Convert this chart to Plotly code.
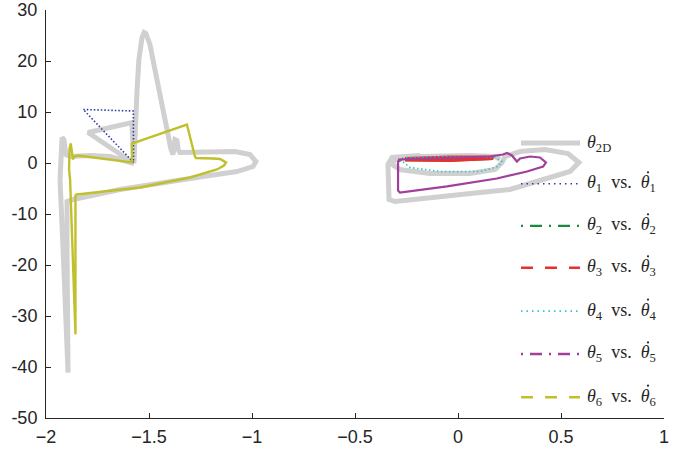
import plotly.graph_objects as go

# ---------------- data ----------------
# theta_2D (thick gray) - left cluster
g2d_left_x = [-1.932, -1.927, -1.922, -1.913, -1.903, -1.883, -1.786, -1.689, -1.573,
              -1.796, -1.583, -1.573, -1.568, -1.558, -1.549, -1.539, -1.534, -1.524,
              -1.515, -1.510, -1.495, -1.481, -1.456, -1.437, -1.422, -1.408, -1.393,
              -1.383, -1.374, -1.364, -1.359, -1.350, -1.204, -1.083, -1.010, -0.981,
              -0.995, -1.073, -1.238, -1.398, -1.641, -1.869, -1.898, -1.898, -1.893,
              -1.917, -1.932]
g2d_left_y = [-3.24, 2.65, 5.0, 4.6, 1.67, 1.27, 1.47, 1.27, -0.1,
              5.98, 7.94, -0.1, 6.57, 14.4, 20.3, 23.8, 24.6, 25.6,
              25.4, 24.8, 23.2, 20.3, 15.4, 11.5, 8.1, 5.2, 2.65,
              1.67, 4.6, 4.4, 2.65, 2.06, 2.25, 2.25, 1.67, 0.29,
              -0.69, -1.67, -2.65, -3.63, -5.2, -7.16, -7.55, -17.0, -41.1,
              -17.0, -3.24]
# theta_2D - right cluster
g2d_right_x = [0.204, 0.180, 0.058, -0.184, -0.306, -0.320, -0.282, -0.136, 0.058,
               0.180, 0.214, 0.228, 0.301, 0.422, 0.534, 0.587, 0.544, 0.413,
               0.252, 0.107, -0.136, -0.306, -0.335, -0.340, -0.320, -0.184]
g2d_right_y = [0.69, 1.27, 1.47, 1.27, 0.69, -0.29, -1.27, -2.06, -2.06,
               -1.27, 0.10, 1.27, 2.25, 2.65, 1.86, 0.10, -1.67, -3.24,
               -5.2, -5.8, -6.76, -7.55, -7.16, -0.29, 1.08, 1.47]

# theta_1 vs dtheta_1 (blue dotted)
th1_x = [-1.819, -1.576, -1.575, -1.819]
th1_y = [10.49, 10.2, 0.1, 10.49]

# theta_2 vs dtheta_2 (green, mostly hidden)
th2_x = [-0.257, -0.039, 0.155, 0.170, -0.039, -0.257]
th2_y = [0.80, 1.05, 1.05, 0.80, 0.45, 0.55]

# theta_3 vs dtheta_3 (red)
th3_x = [-0.257, -0.039, 0.155, 0.170, -0.039, -0.257]
th3_y = [0.88, 1.18, 1.18, 0.88, 0.49, 0.59]

# theta_4 vs dtheta_4 (cyan dotted)
th4_x = [-0.282, -0.233, -0.087, 0.107, 0.194, 0.214, 0.180, -0.039, -0.257, -0.282]
th4_y = [0.69, -0.88, -1.67, -1.67, -0.69, 0.29, 1.08, 1.27, 1.08, 0.69]

# theta_5 vs dtheta_5 (magenta)
th5_x = [-0.291, -0.184, 0.010, 0.155, 0.218, 0.238, 0.262, 0.286, 0.301, 0.350,
         0.398, 0.427, 0.413, 0.335, 0.189, -0.053, -0.282, -0.291, -0.291, -0.267]
th5_y = [0.69, 0.88, 1.08, 1.27, 1.67, 1.96, 1.47, 0.29, 0.88, 1.27,
         1.08, 0.10, -0.69, -1.67, -3.04, -4.6, -5.78, -5.4, 0.29, 0.78]

# theta_6 vs dtheta_6 (yellow)
th6_x = [-1.857, -1.850, -1.544, -1.301, -1.170, -1.136, -1.126, -1.155, -1.189, -1.272,
         -1.277, -1.316, -1.583, -1.583, -1.845, -1.864, -1.869, -1.874, -1.880, -1.886,
         -1.888, -1.883, -1.857, -1.857]
th6_y = [-6.18, -6.18, -4.8, -2.84, -1.27, -0.49, 0.10, 0.78, 0.88, 0.98,
         1.27, 7.55, 3.82, 0.10, 1.47, 1.27, 0.69, 2.65, 3.82, 2.65,
         -1.27, -3.24, -33.6, -6.18]

x_ticks = [-2, -1.5, -1, -0.5, 0, 0.5, 1]
x_ticktext = ["\u22122", "\u22121.5", "\u22121", "\u22120.5", "0", "0.5", "1"]
y_ticks = [-50, -40, -30, -20, -10, 0, 10, 20, 30]
y_ticktext = ["-50", "-40", "-30", "-20", "-10", "0", "10", "20", "30"]

legend_labels = ["<i>θ</i><sub>2D</sub>"] + [
    f"<i>θ</i><sub>{k}</sub>\u2002vs.\u2002<i>θ</i><sub>{k}</sub>" for k in range(1, 7)
]

# ---------------- styles ----------------
GRAY = "#d0d0d0"
BLUE = "#2b3caa"
GREEN = "#1c8a3c"
RED = "#e8302e"
CYAN = "#30c6c6"
MAGENTA = "#a0409c"
YELLOW = "#c0c02c"
AXC = "#262626"

fig = go.Figure()

gx = g2d_left_x + [None] + g2d_right_x
gy = g2d_left_y + [None] + g2d_right_y
fig.add_trace(go.Scatter(x=gx, y=gy, mode="lines",
                         line=dict(color=GRAY, width=5), showlegend=False))
fig.add_trace(go.Scatter(x=th1_x, y=th1_y, mode="lines",
                         line=dict(color=BLUE, width=1.6, dash="1.5px,2px"), showlegend=False))
fig.add_trace(go.Scatter(x=th2_x, y=th2_y, mode="lines",
                         line=dict(color=GREEN, width=2), showlegend=False))
fig.add_trace(go.Scatter(x=th3_x, y=th3_y, mode="lines",
                         line=dict(color=RED, width=3), showlegend=False))
fig.add_trace(go.Scatter(x=th4_x, y=th4_y, mode="lines",
                         line=dict(color=CYAN, width=1.6, dash="1.5px,2.5px"), showlegend=False))
fig.add_trace(go.Scatter(x=th5_x, y=th5_y, mode="lines",
                         line=dict(color=MAGENTA, width=2.2), showlegend=False))
fig.add_trace(go.Scatter(x=th6_x, y=th6_y, mode="lines",
                         line=dict(color=YELLOW, width=2.4), showlegend=False))

# ---------------- manual legend ----------------
leg_styles = [
    (GRAY, 5, "solid"),
    (BLUE, 1.6, "1.5px,4px"),
    (GREEN, 2.2, "2px,7px,12px,7px"),
    (RED, 2.5, "12px,12px"),
    (CYAN, 1.6, "1.5px,4px"),
    (MAGENTA, 2.5, "2px,7px,12px,7px"),
    (YELLOW, 2.5, "12px,12px"),
]
leg_y = [0.674, 0.574, 0.471, 0.368, 0.262, 0.157, 0.051]
x0, x1, xt = 0.7686, 0.8641, 0.872
PW, PH = 618.0, 408.0
dot_x = (648 - 46) / PW
for i, ((c, w, d), yy, lab) in enumerate(zip(leg_styles, leg_y, legend_labels)):
    fig.add_shape(type="line", xref="paper", yref="paper", x0=x0, x1=x1, y0=yy, y1=yy,
                  line=dict(color=c, width=w, dash=d))
    fig.add_annotation(xref="paper", yref="paper", x=xt, y=yy, text=lab, showarrow=False,
                       xanchor="left", yanchor="middle",
                       font=dict(family="Liberation Serif, DejaVu Serif, serif", size=18, color=AXC))
    if i > 0:
        # the derivative dot over the second theta
        cy = yy + 11.5 / PH
        fig.add_shape(type="circle", xref="paper", yref="paper",
                      x0=dot_x - 1.1 / PW, x1=dot_x + 1.1 / PW,
                      y0=cy - 1.1 / PH, y1=cy + 1.1 / PH,
                      fillcolor=AXC, line=dict(width=0))

fig.update_layout(
    width=692, height=452,
    margin=dict(l=46, r=28, t=10, b=34, autoexpand=False),
    paper_bgcolor="white", plot_bgcolor="white",
    showlegend=False,
    font=dict(family="Liberation Sans, Arial, sans-serif", size=18, color=AXC),
)
fig.update_xaxes(range=[-2, 1], tickvals=x_ticks, ticktext=x_ticktext,
                 showline=True, linecolor=AXC, linewidth=1, mirror=False,
                 ticks="inside", ticklen=5, tickcolor=AXC, tickwidth=1,
                 showgrid=False, zeroline=False, ticklabelstandoff=2, automargin=False)
fig.update_yaxes(range=[-50, 30], tickvals=y_ticks, ticktext=y_ticktext,
                 showline=True, linecolor=AXC, linewidth=1, mirror=False,
                 ticks="inside", ticklen=5, tickcolor=AXC, tickwidth=1,
                 showgrid=False, zeroline=False, ticklabelstandoff=4, automargin=False)

fig.write_html("out.html")
